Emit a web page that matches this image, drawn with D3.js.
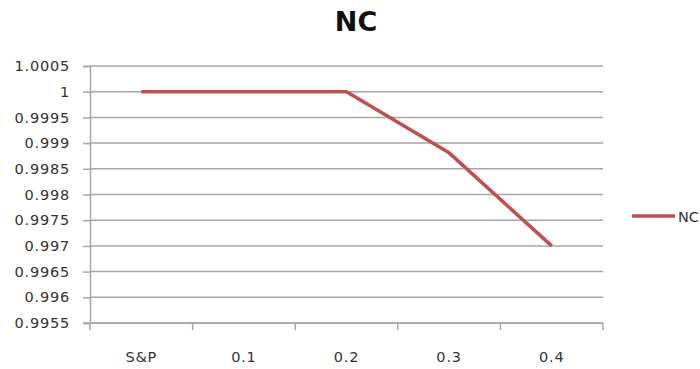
<!DOCTYPE html>
<html>
<head>
<meta charset="utf-8">
<script src="https://cdn.jsdelivr.net/npm/d3@7"></script>
<style>
  html, body { margin: 0; padding: 0; background: #fff; }
  svg { display: block; }
</style>
</head>
<body>
<svg id="chart" width="700" height="369"></svg>
<script>
// Categories along the x axis and the NC series values
const categories = ["S&P", "0.1", "0.2", "0.3", "0.4"];
const ncValues = [1.0, 1.0, 1.0, 0.99881, 0.997];
const yTicks = [0.9955, 0.996, 0.9965, 0.997, 0.9975, 0.998, 0.9985, 0.999, 0.9995, 1, 1.0005];
const seriesName = "NC";
const chartTitle = "NC";

const svg = d3.select("#chart");
const margin = { left: 90, right: 603, top: 66, bottom: 323 };
const font = "'DejaVu Sans', Verdana, sans-serif";
const gridColor = "#a6a6a6";
const textColor = "#333";
const lineColor = "#c0504d";

const x = d3.scaleBand().domain(categories).range([margin.left, margin.right]).paddingInner(0).paddingOuter(0);
const y = d3.scaleLinear().domain([0.9955, 1.0005]).range([margin.bottom, margin.top]);

// Title
svg.append("text")
  .attr("x", 356).attr("y", 31)
  .attr("text-anchor", "middle")
  .attr("font-family", font).attr("font-weight", "bold")
  .attr("font-size", 27).attr("fill", "#111")
  .text(chartTitle);

// Horizontal gridlines
svg.append("g").selectAll("line").data(yTicks).join("line")
  .attr("x1", margin.left).attr("x2", margin.right)
  .attr("y1", d => y(d)).attr("y2", d => y(d))
  .attr("stroke", gridColor).attr("stroke-width", 1.5);

// Y axis
const yAxis = svg.append("g")
  .attr("transform", `translate(${margin.left},0)`)
  .call(d3.axisLeft(y).tickValues(yTicks).tickSize(7).tickPadding(13).tickFormat(d => String(+d.toFixed(4))));
yAxis.select(".domain").attr("stroke", gridColor).attr("stroke-width", 1.5);
yAxis.selectAll(".tick line").attr("stroke", gridColor).attr("stroke-width", 1.5);
yAxis.selectAll(".tick text")
  .attr("font-family", font).attr("font-size", 14.5)
  .attr("letter-spacing", 0.8)
  .attr("fill", textColor);

// X axis: ticks at band boundaries, labels at band centres
const xg = svg.append("g").attr("transform", `translate(0,${margin.bottom})`);
xg.append("line")
  .attr("x1", margin.left - 7).attr("x2", margin.right)
  .attr("stroke", gridColor).attr("stroke-width", 1.5);
const boundaries = categories.map(c => x(c)).concat([x(categories[categories.length - 1]) + x.bandwidth()]);
xg.selectAll("line.tk").data(boundaries).join("line")
  .attr("class", "tk")
  .attr("x1", d => d).attr("x2", d => d)
  .attr("y1", 0).attr("y2", 7)
  .attr("stroke", gridColor).attr("stroke-width", 1.5);
xg.selectAll("text").data(categories).join("text")
  .attr("x", d => x(d) + x.bandwidth() / 2)
  .attr("y", 39)
  .attr("text-anchor", "middle")
  .attr("font-family", font).attr("font-size", 14.5)
  .attr("letter-spacing", 0.8)
  .attr("fill", textColor)
  .text(d => d);

// Series line
const line = d3.line()
  .x((d, i) => x(categories[i]) + x.bandwidth() / 2)
  .y(d => y(d));
svg.append("path")
  .datum(ncValues)
  .attr("d", line)
  .attr("fill", "none")
  .attr("stroke", lineColor)
  .attr("stroke-width", 3.5)
  .attr("stroke-linejoin", "round");

// Legend
const lg = svg.append("g").attr("transform", "translate(632,216)");
lg.append("line").attr("x1", 0).attr("x2", 43).attr("y1", 0).attr("y2", 0)
  .attr("stroke", lineColor).attr("stroke-width", 3.5);
lg.append("text").attr("x", 46).attr("y", 5.5)
  .attr("font-family", font).attr("font-size", 14.5)
  .attr("fill", textColor)
  .text(seriesName);
</script>
</body>
</html>
